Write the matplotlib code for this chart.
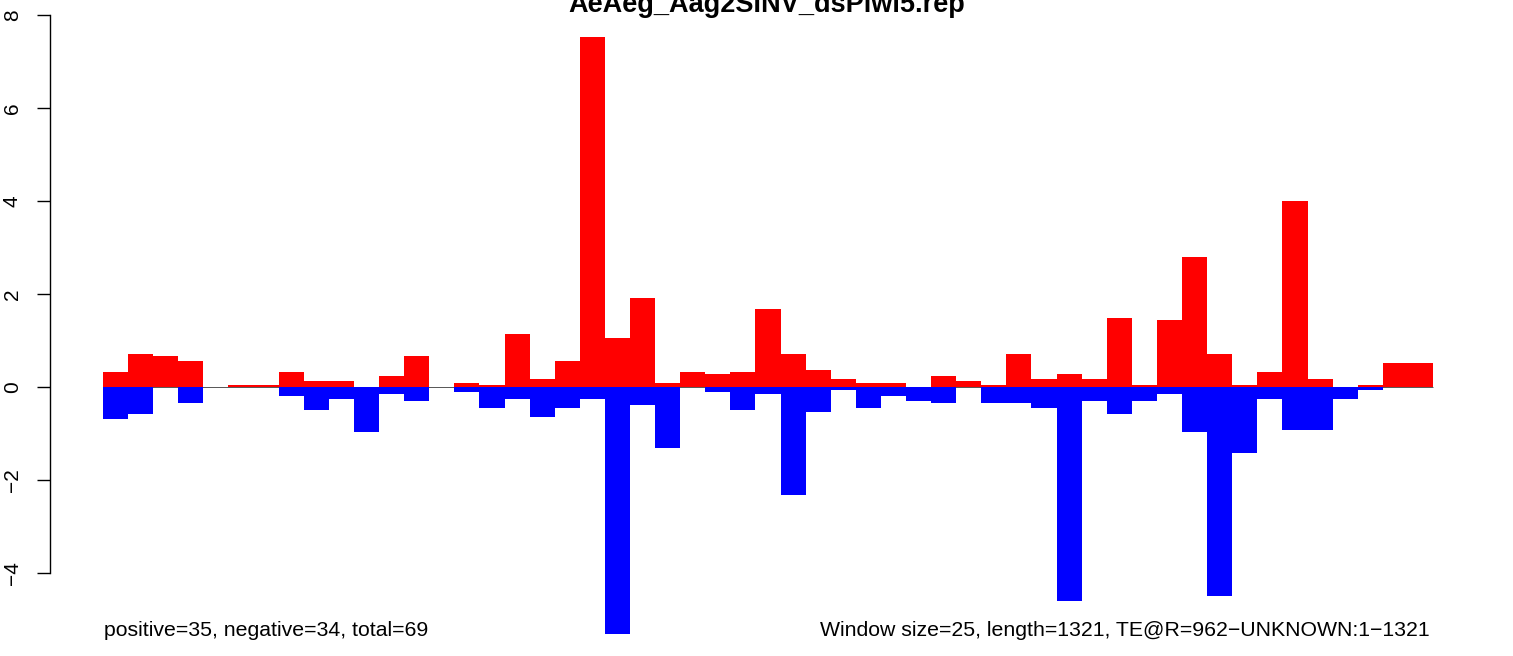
import numpy as np
import matplotlib
matplotlib.use("Agg")
import matplotlib.pyplot as plt

plt.rcParams['font.family'] = ['Liberation Sans', 'DejaVu Sans']

title = "AeAeg_Aag2SINV_dsPiwi5.rep"
left_note = "positive=35, negative=34, total=69"
right_note = "Window size=25, length=1321, TE@R=962\u2212UNKNOWN:1\u22121321"

win_size = 25
# per-window values
pos = [0.32, 0.71, 0.67, 0.56, 0, 0.04, 0.04, 0.32, 0.13, 0.13,
       0, 0.24, 0.67, 0, 0.09, 0.04, 1.14, 0.17, 0.56, 7.53,
       1.05, 1.91, 0.09, 0.32, 0.28, 0.32, 1.68, 0.71, 0.37, 0.17,
       0.09, 0.09, 0, 0.24, 0.13, 0.04, 0.71, 0.17, 0.28, 0.17,
       1.48, 0.04, 1.44, 2.80, 0.71, 0.04, 0.32, 4.0, 0.17, 0,
       0.04, 0.52, 0.52]
neg = [-0.69, -0.58, 0, -0.34, 0, 0, 0, -0.19, -0.49, -0.26,
       -0.97, -0.15, -0.30, 0, -0.11, -0.45, -0.26, -0.64, -0.45, -0.26,
       -5.31, -0.39, -1.31, 0, -0.11, -0.49, -0.15, -2.32, -0.54, -0.06,
       -0.45, -0.19, -0.30, -0.34, 0, -0.34, -0.34, -0.45, -4.6, -0.30,
       -0.58, -0.30, -0.15, -0.97, -4.49, -1.42, -0.26, -0.92, -0.92, -0.26,
       -0.06, 0, 0]
yticks = [-4, -2, 0, 2, 4, 6, 8]

W, H = 1513, 656
fig = plt.figure(figsize=(W / 100, H / 100), dpi=100)

# axes placed in pixel terms: bars run from px 103 to 1433
px_per_bp = (1433 - 103) / (len(pos) * win_size)
ax_l, ax_r = 50, 1463
ax_t, ax_b = 15, 641
ax = fig.add_axes([ax_l / W, 1 - ax_b / H, (ax_r - ax_l) / W, (ax_b - ax_t) / H])
ax.set_xlim((ax_l - 103) / px_per_bp, (ax_r - 103) / px_per_bp)
ax.set_ylim(8 - (ax_b - ax_t) / 46.5, 8)

x = np.arange(len(pos)) * win_size
ax.bar(x, neg, width=win_size, align='edge', color='#0000FF', linewidth=0)
ax.bar(x, pos, width=win_size, align='edge', color='#FF0000', linewidth=0)
ax.hlines(0, 0, len(pos) * win_size, color='#555555', linewidth=0.7, zorder=0)

for s in ['top', 'right', 'bottom']:
    ax.spines[s].set_visible(False)
ax.spines['left'].set_bounds(-4, 8)
ax.spines['left'].set_linewidth(1.0)
ax.set_xticks([])
ax.set_yticks(yticks)
ax.set_yticklabels([str(t).replace('-', '\u2212') for t in yticks],
                   rotation=90, va='center', fontsize=15)
ax.tick_params(axis='y', length=9.4, width=1.0, pad=11)

fig.text(766.5 / W, 1 - 12 / H, title, ha='center', va='baseline',
         fontsize=19.5, fontweight='bold')
fig.text(104 / W, 1 - 636 / H, left_note, ha='left', va='baseline', fontsize=15.3)
fig.text(1430 / W, 1 - 636 / H, right_note, ha='right', va='baseline', fontsize=15.3)

fig.savefig("out.png", dpi=100)
